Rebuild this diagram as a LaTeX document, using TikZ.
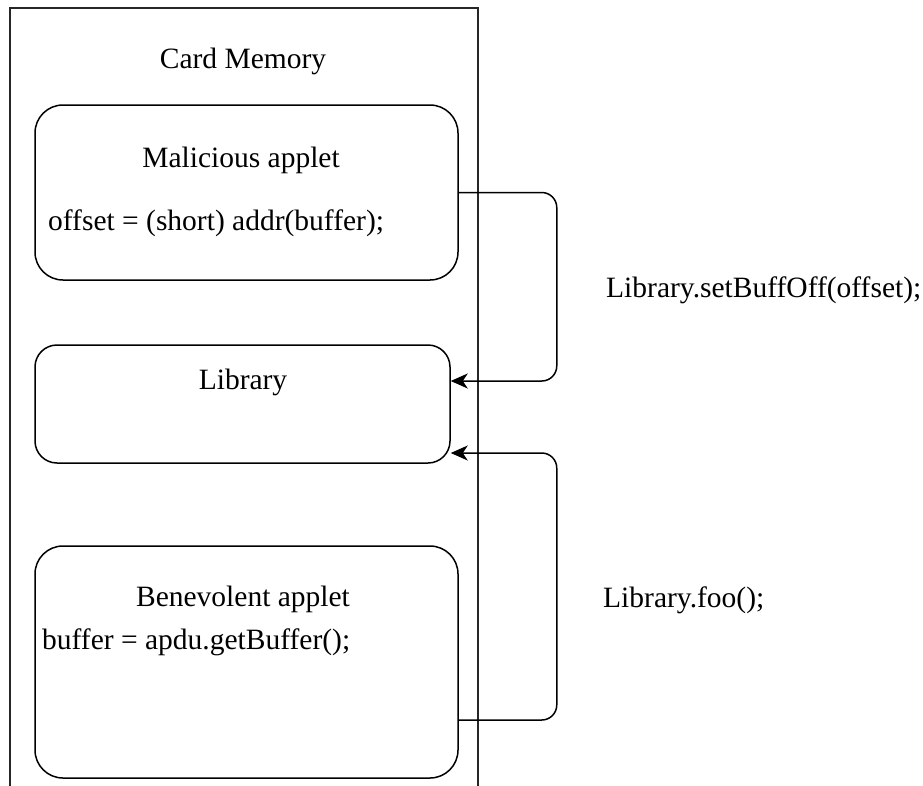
\documentclass[tikz,border=0pt]{standalone}
\usepackage{fontspec}
\setmainfont{Liberation Serif}
\usetikzlibrary{arrows.meta}
\begin{document}
\begin{tikzpicture}[x=1pt,y=-1pt,
  box/.style={draw,line width=1.5pt,rounded corners=28pt,inner sep=0pt},
  lbl/.style={inner sep=0pt,anchor=base,font=\fontsize{29.5}{34}\selectfont},
  conn/.style={line width=1.5pt,rounded corners=15pt,-{Stealth[length=17pt,width=15pt,inset=5pt]}}]
\useasboundingbox (0,0) rectangle (923,785);
\draw[line width=1.4pt,black!85] (10,800) -- (10,8) -- (478,8) -- (478,800);
\node[lbl] (title) at (243,68) {Card Memory};
\node[box,minimum width=423pt,minimum height=175pt] (mal) at (246.5,192.5) {};
\node[box,rounded corners=22pt,minimum width=415pt,minimum height=118pt] (lib) at (242.5,404) {};
\node[box,minimum width=423pt,minimum height=232pt] (ben) at (246.5,662) {};
\node[lbl] (malt) at (241,167) {Malicious applet};
\node[lbl,anchor=base west] (malc) at (48,230) {offset = (short) addr(buffer);};
\node[lbl] (libt) at (243,389) {Library};
\node[lbl] (bent) at (243,606) {Benevolent applet};
\node[lbl,anchor=base west] (benc) at (42,649) {buffer = apdu.getBuffer();};
\node[lbl,anchor=base west] (set) at (606,297) {Library.setBuffOff(offset);};
\node[lbl,anchor=base west] (foo) at (603,607) {Library.foo();};
\draw[conn] (mal.east) -- ++(98,0) |- ([yshift=23pt]lib.east);
\draw[conn] ([yshift=-58pt]ben.east) -- ++(98,0) |- ([yshift=-49pt]lib.east);
\end{tikzpicture}
\end{document}
